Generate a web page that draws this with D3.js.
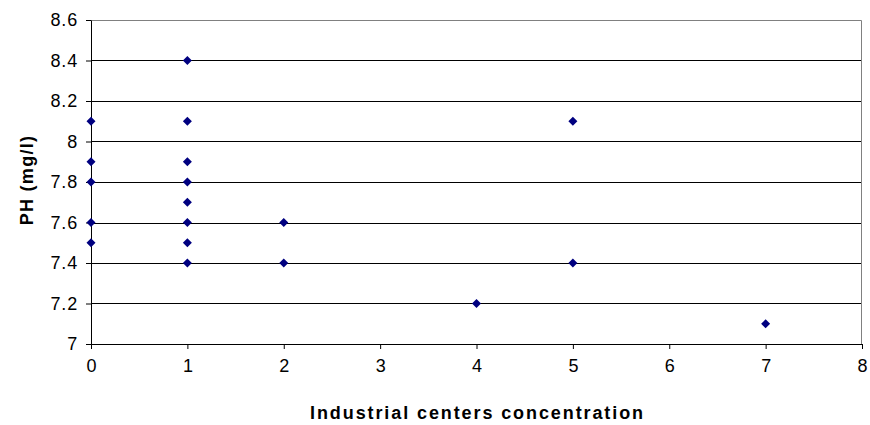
<!DOCTYPE html>
<html>
<head>
<meta charset="utf-8">
<script src="https://cdn.jsdelivr.net/npm/d3@7/dist/d3.min.js"></script>
<style>
  body { margin: 0; background: #fff; }
  text { font-family: "Liberation Sans", Arial, sans-serif; }
</style>
</head>
<body>
<div id="chart-area"></div>
<script>
// data
var concentration = [0, 0, 0, 0, 0, 1, 1, 1, 1, 1, 1, 1, 1, 2, 2, 4, 5, 5, 7];
var ph = [8.1, 7.9, 7.8, 7.6, 7.5, 8.4, 8.1, 7.9, 7.8, 7.7, 7.6, 7.5, 7.4, 7.6, 7.4, 7.2, 8.1, 7.4, 7.1];
var xTicks = [0, 1, 2, 3, 4, 5, 6, 7, 8];
var yTicks = [7, 7.2, 7.4, 7.6, 7.8, 8, 8.2, 8.4, 8.6];

var margin = {top: 20, right: 8, bottom: 81, left: 91},
    width = 870 - margin.left - margin.right,
    height = 425 - margin.top - margin.bottom;

var svg = d3.select("#chart-area")
    .append("svg")
        .attr("width", 870)
        .attr("height", 425);

var g = svg.append("g")
    .attr("transform", "translate(" + margin.left + "," + margin.top + ")");

var x = d3.scaleLinear()
    .domain([0, 8])
    .range([0, width]);

var y = d3.scaleLinear()
    .domain([7, 8.6])
    .range([height, 0]);

// gridlines
g.selectAll("line.grid")
    .data(yTicks.slice(1, -1))
    .enter()
    .append("line")
        .attr("class", "grid")
        .attr("x1", 0)
        .attr("x2", width)
        .attr("y1", (d) => Math.round(y(d)) + 0.5)
        .attr("y2", (d) => Math.round(y(d)) + 0.5)
        .attr("stroke", "#000")
        .attr("stroke-width", 1);

// plot area border (top + right)
g.append("path")
    .attr("d", "M0,0.5H" + (width - 0.5) + "V" + height)
    .attr("fill", "none")
    .attr("stroke", "#808080")
    .attr("stroke-width", 1);

var xAxisCall = d3.axisBottom(x)
    .tickValues(xTicks)
    .tickSize(5)
    .tickSizeOuter(0)
    .tickPadding(8)
    .tickFormat(d3.format("d"));

var xAxis = g.append("g")
    .attr("class", "x axis")
    .attr("transform", "translate(0," + height + ")")
    .call(xAxisCall);

var yAxisCall = d3.axisLeft(y)
    .tickValues(yTicks)
    .tickSize(5)
    .tickSizeOuter(0)
    .tickPadding(9)
    .tickFormat((d) => d3.format("")(+d.toFixed(1)));

var yAxis = g.append("g")
    .attr("class", "y axis")
    .call(yAxisCall);

[xAxis, yAxis].forEach((a) => {
    a.selectAll("path, line").attr("stroke", "#000");
    a.selectAll("text")
        .attr("font-size", "18px")
        .attr("letter-spacing", "0.8px")
        .attr("fill", "#000");
});
xAxis.selectAll("text").attr("dy", "0.85em").attr("dx", "0.4px");
yAxis.selectAll("text").attr("dx", "1px");

// X Label
g.append("text")
    .attr("x", width / 2 + 1)
    .attr("y", height + 75)
    .attr("font-size", "18px")
    .attr("font-weight", "bold")
    .attr("letter-spacing", "1.9px")
    .attr("text-anchor", "middle")
    .text("Industrial centers concentration");

// Y Label
g.append("text")
    .attr("x", -(height / 2) + 2)
    .attr("y", -58)
    .attr("font-size", "18px")
    .attr("font-weight", "bold")
    .attr("letter-spacing", "1.3px")
    .attr("text-anchor", "middle")
    .attr("transform", "rotate(-90)")
    .text("PH (mg/l)");

var points = concentration.map((c, i) => ({c: c, ph: ph[i]}));

g.selectAll("path.pt")
    .data(points)
    .enter()
    .append("path")
        .attr("class", "pt")
        .attr("d", "M0,-4.5L4.5,0L0,4.5L-4.5,0Z")
        .attr("transform", (d) => "translate(" + x(d.c) + "," + y(d.ph) + ")")
        .attr("fill", "#000080");
</script>
</body>
</html>
